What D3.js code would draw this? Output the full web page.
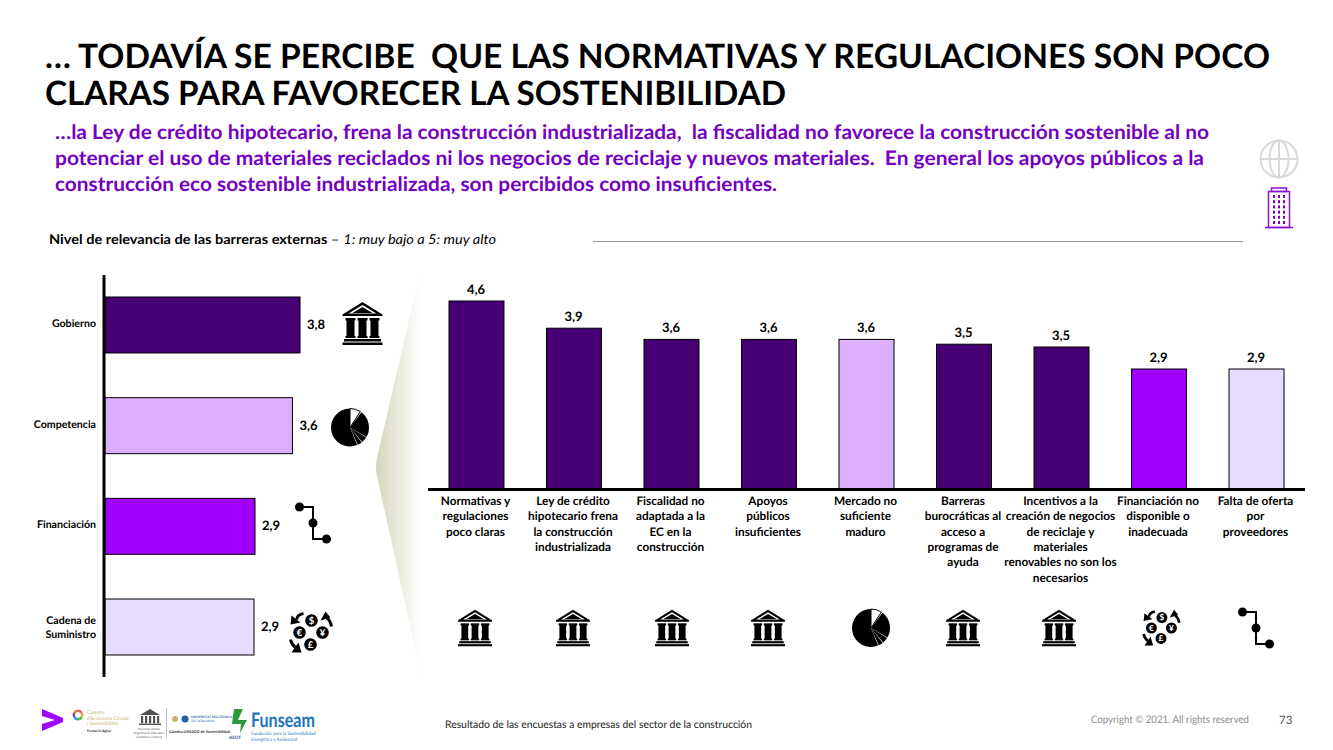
<!DOCTYPE html>
<html><head><meta charset="utf-8">
<script src="https://cdn.jsdelivr.net/npm/d3@7"></script>
<style>html,body{margin:0;padding:0;background:#fff}svg{display:block}text{font-family:Lato,"Open Sans",sans-serif;text-rendering:geometricPrecision}</style>
</head><body><div id="c"></div>
<script>
const groupCategories=["Gobierno","Competencia","Financiación","Cadena de|Suministro"];
const groupValues=[3.8,3.649,2.9,2.88];
const groupColors=["#460073","#dcafff","#a100ff","#e6dcff"];
const groupIcons=["temple","pie","route","money"];
const barCategories=["Normativas y|regulaciones|poco claras","Ley de crédito|hipotecario frena|la construcción|industrializada","Fiscalidad no|adaptada a la|EC en la|construcción","Apoyos|públicos|insuficientes","Mercado no|suficiente|maduro","Barreras|burocráticas al|acceso a|programas de|ayuda","Incentivos a la|creación de negocios|de reciclaje y|materiales|renovables no son los|necesarios","Financiación no|disponible o|inadecuada","Falta de oferta|por|proveedores"];
const barValues=[4.6,3.92,3.64,3.64,3.64,3.52,3.45,2.9,2.9];
const barColors=["#460073","#460073","#460073","#460073","#dcafff","#460073","#460073","#a100ff","#e6dcff"];
const barIcons=["temple","temple","temple","temple","pie","temple","temple","money","route"];
const titleLines=["… TODAVÍA SE PERCIBE  QUE LAS NORMATIVAS Y REGULACIONES SON POCO","CLARAS PARA FAVORECER LA SOSTENIBILIDAD"];
const leadLines=["…la Ley de crédito hipotecario, frena la construcción industrializada,  la fiscalidad no favorece la construcción sostenible al no","potenciar el uso de materiales reciclados ni los negocios de reciclaje y nuevos materiales.  En general los apoyos públicos a la","construcción eco sostenible industrializada, son percibidos como insuficientes."];

const svg=d3.select("#c").append("svg").attr("width",1333).attr("height",750).attr("viewBox","0 0 1333 750");
const fmt=v=>v.toFixed(1).replace(".",",");
const defs=svg.append("defs");
const g=defs.append("linearGradient").attr("id","fade");
g.append("stop").attr("offset",0).attr("stop-color","#d5d5bd");
g.append("stop").attr("offset",1).attr("stop-color","#ffffff");

function fit(sel,w){sel.attr("textLength",w).attr("lengthAdjust","spacingAndGlyphs");return sel}
function squeeze(sel,x,y,w){const n=sel.node().getComputedTextLength();sel.attr("transform",`translate(${x},${y}) scale(${w/n},1)`);return sel}

// Header
[[45,67.5,1225],[45,104.5,741]].forEach((p,i)=>squeeze(svg.append("text").attr("font-size",33.5).attr("font-weight",700).attr("fill","#000").style("white-space","pre").text(titleLines[i]),p[0],p[1],p[2]));
[[55,138.5,1154],[55,165,1149],[55,191,722]].forEach((p,i)=>fit(svg.append("text").attr("x",p[0]).attr("y",p[1]).attr("font-size",20).attr("font-weight",700).attr("fill","#7500c0").style("white-space","pre").text(leadLines[i]),p[2]));
const note=svg.append("text").attr("x",49).attr("y",244).attr("font-size",13.5).attr("fill","#000");
note.append("tspan").attr("font-weight",700).text("Nivel de relevancia de las barreras externas");
note.append("tspan").text(" – ");
note.append("tspan").attr("font-style","italic").text("1: muy bajo a 5: muy alto");
fit(note,447);
svg.append("line").attr("x1",593).attr("x2",1243).attr("y1",241.5).attr("y2",241.5).attr("stroke","#999");

// Chevron
svg.append("path").attr("d","M421,268L377,458Q375,467 377,476L421,676Z").attr("fill","url(#fade)");

// Icons
function icon(name,cx,cy,s){
  const o=svg.append("g").attr("transform",`translate(${cx},${cy}) scale(${s})`);
  if(name==="temple"){
    o.append("path").attr("d","M0,-21.5L20,-9L20,-7.5L-20,-7.5L-20,-9Z M0,-18.5L-14,-10L14,-10Z").attr("fill-rule","evenodd").attr("fill","#000");
    o.append("path").attr("d","M0,-16.5L-10,-10.5L10,-10.5Z").attr("fill","#000");
    [-12,0,12].forEach(x=>{
      o.append("rect").attr("x",x-5).attr("y",-5.5).attr("width",10).attr("height",2.5).attr("fill","#000");
      o.append("rect").attr("x",x-4).attr("y",-4).attr("width",8).attr("height",18).attr("fill","#000");
      o.append("rect").attr("x",x-5).attr("y",12.5).attr("width",10).attr("height",2).attr("fill","#000");
    });
    o.append("rect").attr("x",-18.5).attr("y",15.5).attr("width",37).attr("height",2.5).attr("fill","#000");
    o.append("rect").attr("x",-20).attr("y",19).attr("width",40).attr("height",2.5).attr("fill","#000");
  } else if(name==="pie"){
    const a=d3.arc().innerRadius(0).outerRadius(19);
    const deg=Math.PI/180;
    [[0,33,"#fff"],[37,120,"#000"],[122,140,"#000"],[142,156,"#000"],[158,360,"#000"]].forEach(d=>{
      o.append("path").attr("d",a({startAngle:d[0]*deg,endAngle:d[1]*deg})).attr("fill",d[2]).attr("stroke",d[2]==="#fff"?"#000":"none").attr("stroke-width",1);
    });
  } else if(name==="route"){
    o.append("path").attr("d","M-13.5,-16H0V16H13.5").attr("fill","none").attr("stroke","#000").attr("stroke-width",2);
    [[-13.5,-16],[0,0],[13.5,16]].forEach(p=>o.append("circle").attr("cx",p[0]).attr("cy",p[1]).attr("r",4.5).attr("fill","#000"));
  } else {
    [["$",1,-12],["€",-11,0],["¥",12,0],["£",0,12]].forEach(d=>{
      o.append("circle").attr("cx",d[1]).attr("cy",d[2]).attr("r",6.3).attr("fill","#000");
      o.append("text").attr("x",d[1]).attr("y",d[2]+3.3).attr("text-anchor","middle").attr("font-size",9.5).attr("font-weight",700).attr("fill","#fff").text(d[0]);
    });
    ["M-7,-19Q-13,-18 -14,-13","M21,-6Q20,-12 16,-15","M-20,7Q-19,12 -15,15"].forEach(d=>o.append("path").attr("d",d).attr("fill","none").attr("stroke","#000").attr("stroke-width",3));
    ["M-20,-8L-19,-17L-10,-10Z","M15,-21L10,-12L20,-15Z","M-9,20L-19,20L-12,10Z"].forEach(d=>o.append("path").attr("d",d).attr("fill","#000"));
  }
}

// Left chart
const yL=d3.scaleBand().domain(groupCategories).range([297,655]).paddingInner(0.444).paddingOuter(0);
const xL=d3.scaleLinear().domain([-0.1,3.8]).range([105,300]);
svg.selectAll("rect.g").data(groupValues).join("rect").attr("class","g")
  .attr("x",xL(-0.1)).attr("y",(d,i)=>yL(groupCategories[i])).attr("width",d=>xL(d)-xL(-0.1)).attr("height",yL.bandwidth())
  .attr("fill",(d,i)=>groupColors[i]).attr("stroke","#000").attr("stroke-width",1);
const axL=svg.append("g").attr("transform","translate(104,0)").call(d3.axisLeft(yL).tickSize(0).tickPadding(8));
axL.select(".domain").remove();
axL.selectAll("text").each(function(d){
  const t=d3.select(this).text("").attr("font-size",10.6).attr("font-weight",700).attr("fill","#000").style("font-family","Lato,sans-serif");
  const ls=d.split("|");
  ls.forEach((l,i)=>t.append("tspan").attr("x",-8).attr("dy",i===0?(ls.length>1?"-0.25em":"0.2em"):"14px").text(l));
}).attr("dy",null);
svg.append("line").attr("x1",104).attr("x2",104).attr("y1",275).attr("y2",677).attr("stroke","#000").attr("stroke-width",3);
svg.selectAll("text.gv").data(groupValues).join("text").attr("class","gv")
  .attr("x",d=>xL(d)+7).attr("y",(d,i)=>yL(groupCategories[i])+yL.bandwidth()/2+4).attr("font-size",13).attr("font-weight",700).attr("fill","#000").text(fmt);
const leftPos=[[362.5,323.5,1],[350,427.5,1],[313,523,1],[310.5,632.5,1]];
groupIcons.forEach((n,i)=>icon(n,leftPos[i][0],leftPos[i][1],leftPos[i][2]));

// Right chart
const xR=d3.scaleBand().domain(barCategories).range([449,1284]).paddingInner(0.436).paddingOuter(0);
const yR=d3.scaleLinear().domain([-0.1,4.6]).range([489,301]);
svg.selectAll("rect.b").data(barValues).join("rect").attr("class","b")
  .attr("x",(d,i)=>xR(barCategories[i])).attr("y",d=>yR(d)).attr("width",xR.bandwidth()).attr("height",d=>yR(-0.1)-yR(d))
  .attr("fill",(d,i)=>barColors[i]).attr("stroke","#000").attr("stroke-width",1);
svg.selectAll("text.bv").data(barValues).join("text").attr("class","bv")
  .attr("x",(d,i)=>xR(barCategories[i])+xR.bandwidth()/2-0.5).attr("y",d=>yR(d)-7).attr("text-anchor","middle").attr("font-size",13).attr("font-weight",700).attr("fill","#000").text(fmt);
const axR=svg.append("g").attr("transform","translate(0,489.5)").call(d3.axisBottom(xR).tickSize(0).tickPadding(6));
axR.select(".domain").remove();
axR.selectAll("text").each(function(d,idx){
  const t=d3.select(this).text("").attr("font-size",11.8).attr("font-weight",700).attr("fill","#000").style("font-family","Lato,sans-serif").attr("dy",null);
  d.split("|").forEach((l,i)=>t.append("tspan").attr("x",-1).attr("y",15.5+i*15.3).text(l));
});
svg.append("line").attr("x1",428).attr("x2",1305).attr("y1",489.5).attr("y2",489.5).attr("stroke","#000").attr("stroke-width",3);
const iconX=[475,573,672,768,871,963,1059,1161,1256];
barIcons.forEach((n,i)=>icon(n,iconX[i],628,n==="temple"?0.85:n==="route"?1:n==="pie"?1:0.87));

// Globe & building
const gl=svg.append("g").attr("fill","none").attr("stroke","#d9d9d9").attr("stroke-width",2);
gl.append("circle").attr("cx",1279).attr("cy",159).attr("r",18.5);
gl.append("ellipse").attr("cx",1279).attr("cy",159).attr("rx",9.5).attr("ry",18.5);
gl.append("path").attr("d","M1279,140.5V177.5M1260.5,159H1297.5");
const bd=svg.append("g").attr("stroke","#8a10d0").attr("fill","none").attr("stroke-width",1.5);
bd.append("rect").attr("x",1268.5).attr("y",191.5).attr("width",21).attr("height",36);
bd.append("rect").attr("x",1271.5).attr("y",188).attr("width",15).attr("height",3.5);
bd.append("line").attr("x1",1265).attr("x2",1293).attr("y1",227.5).attr("y2",227.5);
for(let r=0;r<6;r++)for(let c=0;c<3;c++)svg.append("rect").attr("x",1273+c*5).attr("y",195+r*5.2).attr("width",2).attr("height",3).attr("fill","#7500c0");

// Footer
svg.append("text").attr("x",445).attr("y",728).attr("font-size",10.5).attr("fill","#222").call(fit,307).text("Resultado de las encuestas a empresas del sector de la construcción");
svg.append("text").attr("x",1091).attr("y",723).attr("font-size",10.5).attr("fill","#8c8c8c").call(fit,158).text("Copyright © 2021. All rights reserved");
svg.append("text").attr("x",1279).attr("y",724).attr("font-size",11.5).attr("fill","#555").text("73");

// Logos
svg.append("path").attr("d","M42,709L63,718V722L42,731V724L55,720L42,716Z").attr("fill","#a100ff");
const ringC=["#e0607e","#f2b233","#5ab54a","#2f9fd0","#7b4fa0","#ea7a2a"];
const ringArc=d3.arc().innerRadius(3).outerRadius(5.5);
d3.pie().value(1)(ringC).forEach(s=>svg.append("path").attr("transform","translate(78,715)").attr("d",ringArc(s)).attr("fill",s.data));
["Càtedra","d'Economia Circula","i Sostenibilitat"].forEach((t,i)=>svg.append("text").attr("x",87).attr("y",714+i*5.6).attr("font-size",5).attr("fill","#c9b27a").text(t));
svg.append("text").attr("x",87).attr("y",732).attr("font-size",3.5).attr("font-weight",700).attr("fill","#333").text("Fundació Agbar");
svg.append("g").attr("opacity",.85).call(s=>{
  s.append("path").attr("d","M140,715L150,709L160,715Z").attr("fill","#333");
  [141,145,149,153,157].forEach(x=>s.append("rect").attr("x",x).attr("y",716).attr("width",2.2).attr("height",7).attr("fill","#333"));
  s.append("rect").attr("x",139).attr("y",723.5).attr("width",22).attr("height",1.5).attr("fill","#333");
});
["Naciones Unidas","Organización Educativa,","Científica y Cultural"].forEach((t,i)=>svg.append("text").attr("x",149).attr("y",730+i*3.8).attr("text-anchor","middle").attr("font-size",3).attr("fill","#555").text(t));
svg.append("line").attr("x1",166.5).attr("x2",166.5).attr("y1",708).attr("y2",738).attr("stroke","#999").attr("stroke-width",.6);
svg.append("circle").attr("cx",185).attr("cy",719).attr("r",3.5).attr("fill","#1f5fa8");
svg.append("circle").attr("cx",175).attr("cy",719).attr("r",3).attr("fill","#c9b27a");
svg.append("text").attr("x",191).attr("y",717.5).attr("font-size",3.2).attr("font-weight",700).attr("fill","#1f5fa8").text("UNIVERSITAT POLITÈCNICA");
svg.append("text").attr("x",191).attr("y",722).attr("font-size",3.2).attr("fill","#1f5fa8").text("DE CATALUNYA");
svg.append("text").attr("x",169).attr("y",732.5).attr("font-size",3.9).attr("font-weight",700).attr("fill","#333").text("Cátedra UNESCO de Sostenibilidad");
svg.append("path").attr("d","M234,709H243L238,720H247L240,733L241,724H232Z").attr("fill","#2a9a3a");
svg.append("text").attr("x",229).attr("y",739).attr("font-size",4.5).attr("font-weight",700).attr("fill","#1f4a8a").text("AEOT");
svg.append("text").attr("x",251).attr("y",727).attr("font-size",20).attr("font-weight",700).attr("fill","#1a75b8").call(fit,64).text("Funseam");
["Fundación para la Sostenibilidad","Energética y Ambiental"].forEach((t,i)=>svg.append("text").attr("x",251).attr("y",735+i*5.5).attr("font-size",4.6).attr("fill","#1a75b8").text(t));
</script></body></html>
